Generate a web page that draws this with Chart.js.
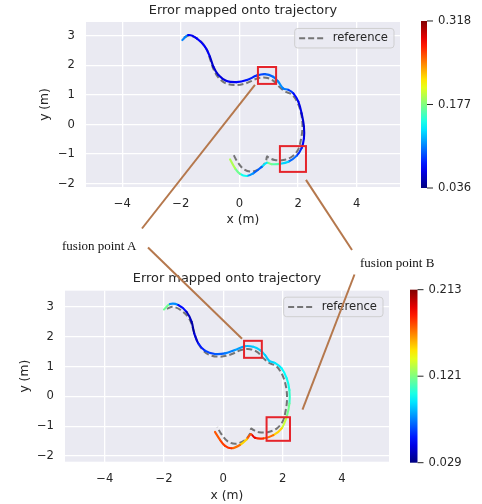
<!DOCTYPE html>
<html>
<head>
<meta charset="utf-8">
<script src="https://cdn.jsdelivr.net/npm/chart.js@4.4.0/dist/chart.umd.min.js"></script>
<style>
  html, body { margin: 0; padding: 0; background: #fff; }
  #page { position: relative; width: 482px; height: 504px; overflow: hidden; }
  #page canvas { position: absolute; left: 0; }
  #chartTop { top: 0; }
  #chartBottom { top: 250px; }
  #overlay { top: 0; pointer-events: none; }
  .callout {
    position: absolute;
    font: 13px 'Liberation Serif', 'Times New Roman', serif;
    line-height: 15px;
    color: #111;
    white-space: nowrap;
  }
</style>
</head>
<body>
<div id="page">
  <canvas id="chartTop" width="482" height="240"></canvas>
  <canvas id="chartBottom" width="482" height="254"></canvas>
  <canvas id="overlay" width="482" height="504"></canvas>
  <div class="callout" id="labelA" style="left:62px; top:238px">fusion point A</div>
  <div class="callout" id="labelB" style="left:360px; top:255px">fusion point B</div>
</div>
<script>
// --- data -------------------------------------------------------------
const xTicks = [-4, -2, 0, 2, 4]
const yTicks = [-2, -1, 0, 1, 2, 3]

// reference trajectory (same in both plots)
const refX = [-1.9, -1.7, -1.42, -1.15, -1.0, -0.88, -0.7, -0.45, -0.1, 0.25, 0.6, 0.9, 1.15, 1.35, 1.55, 1.8, 2.0, 2.12, 2.15, 2.1, 2.0, 1.8, 1.5, 1.2, 1.0, 0.94, 0.9, 0.72, 0.42, 0.15, -0.07, -0.2]
const refY = [2.93, 3.0, 2.88, 2.6, 2.2, 1.85, 1.56, 1.38, 1.33, 1.4, 1.55, 1.58, 1.48, 1.28, 1.12, 1.0, 0.7, 0.3, -0.1, -0.5, -0.85, -1.08, -1.2, -1.2, -1.12, -1.08, -1.25, -1.47, -1.59, -1.51, -1.26, -1.03]

// upper plot: estimated trajectory + error (m)
const topX = [-1.95, -1.75, -1.46, -1.18, -1.01, -0.89, -0.72, -0.44, -0.1, 0.25, 0.59, 0.87, 1.15, 1.32, 1.49, 1.67, 1.84, 2.01, 2.12, 2.2, 2.2, 2.12, 1.95, 1.67, 1.38, 1.1, 0.93, 0.76, 0.47, 0.25, 0.02, -0.15, -0.32]
const topY = [2.85, 3.02, 2.91, 2.63, 2.29, 1.95, 1.67, 1.47, 1.43, 1.5, 1.65, 1.7, 1.61, 1.45, 1.22, 1.17, 1.05, 0.77, 0.38, -0.07, -0.47, -0.8, -1.06, -1.26, -1.33, -1.34, -1.29, -1.43, -1.65, -1.74, -1.67, -1.48, -1.18]
const topErr = [0.14, 0.075, 0.062, 0.08, 0.058, 0.056, 0.06, 0.065, 0.07, 0.075, 0.085, 0.095, 0.1, 0.105, 0.115, 0.095, 0.08, 0.068, 0.06, 0.058, 0.062, 0.075, 0.09, 0.11, 0.15, 0.18, 0.17, 0.1, 0.095, 0.13, 0.16, 0.185, 0.195]
const topScale = [0.036, 0.177, 0.318]

// lower plot
const botX = [-2.0, -1.8, -1.52, -1.24, -1.07, -0.98, -0.84, -0.62, -0.28, 0.06, 0.39, 0.73, 1.01, 1.24, 1.41, 1.55, 1.74, 1.97, 2.14, 2.23, 2.23, 2.14, 1.97, 1.69, 1.35, 1.07, 0.93, 0.79, 0.56, 0.28, 0.06, -0.11, -0.28]
const botY = [2.91, 3.09, 3.06, 2.83, 2.5, 2.11, 1.77, 1.53, 1.42, 1.44, 1.55, 1.68, 1.66, 1.55, 1.38, 1.19, 1.12, 0.94, 0.6, 0.21, -0.24, -0.68, -1.07, -1.3, -1.41, -1.39, -1.27, -1.44, -1.63, -1.74, -1.66, -1.46, -1.19]
const botErr = [0.143, 0.093, 0.062, 0.046, 0.035, 0.037, 0.052, 0.062, 0.066, 0.072, 0.078, 0.084, 0.088, 0.092, 0.09, 0.088, 0.093, 0.097, 0.099, 0.103, 0.112, 0.125, 0.143, 0.161, 0.18, 0.185, 0.204, 0.143, 0.161, 0.18, 0.182, 0.176, 0.173]
const botScale = [0.029, 0.121, 0.213]

// highlighted regions [xMin, xMax, yMin, yMax] in metres
const topBoxA = [0.63, 1.25, 1.37, 1.94]
const topBoxB = [1.38, 2.27, -1.6, -0.73]
const botBoxA = [0.7, 1.3, 1.29, 1.86]
const botBoxB = [1.46, 2.25, -1.49, -0.7]

// --- helpers ----------------------------------------------------------
Chart.defaults.font.family = "'DejaVu Sans', sans-serif"
Chart.defaults.color = '#262626'

const jet = (t) => {
  const c = (v) => Math.round(255 * Math.min(1, Math.max(0, v)))
  return `rgb(${c(1.5 - Math.abs(4 * t - 3))}, ${c(1.5 - Math.abs(4 * t - 2))}, ${c(1.5 - Math.abs(4 * t - 1))})`
}
const fmt = (v) => String(v).replace('-', '\u2212')

const backgroundPlugin = {
  id: 'darkgrid',
  beforeDraw: (chart) => {
    const { ctx, chartArea: a } = chart
    ctx.save()
    ctx.fillStyle = '#eaeaf2'
    ctx.fillRect(a.left, a.top, a.width, a.height)
    ctx.restore()
  }
}

const createBoxesPlugin = (boxes) => ({
  id: 'boxes',
  afterDatasetsDraw: (chart) => {
    const { ctx, scales: { x, y } } = chart
    ctx.save()
    ctx.strokeStyle = '#e5242b'
    ctx.lineWidth = 2
    boxes.forEach(([x0, x1, y0, y1]) => {
      const l = x.getPixelForValue(x0), r = x.getPixelForValue(x1)
      const t = y.getPixelForValue(y1), b = y.getPixelForValue(y0)
      ctx.strokeRect(l, t, r - l, b - t)
    })
    ctx.restore()
  }
})

const legendPlugin = {
  id: 'refLegend',
  afterDatasetsDraw: (chart) => {
    const { ctx, chartArea: a } = chart
    const ds = chart.data.datasets[1]
    ctx.save()
    ctx.font = "11.6px 'DejaVu Sans'"
    const w = 38 + ctx.measureText(ds.label).width + 6
    const h = 19.5
    const left = a.right - 6 - w, top = a.top + 6.5
    ctx.beginPath()
    ctx.roundRect(left, top, w, h, 3)
    ctx.fillStyle = 'rgba(234,234,242,0.85)'
    ctx.fill()
    ctx.strokeStyle = 'rgba(204,204,204,0.9)'
    ctx.lineWidth = 1
    ctx.stroke()
    ctx.beginPath()
    ctx.setLineDash(ds.borderDash)
    ctx.strokeStyle = ds.borderColor
    ctx.lineWidth = ds.borderWidth
    ctx.moveTo(left + 4.5, top + h / 2)
    ctx.lineTo(left + 29, top + h / 2)
    ctx.stroke()
    ctx.setLineDash([])
    ctx.fillStyle = '#262626'
    ctx.textBaseline = 'middle'
    ctx.fillText(ds.label, left + 38, top + h / 2)
    ctx.restore()
  }
}

const createColorbarPlugin = (scaleVals, barW) => ({
  id: 'colorbar',
  afterDraw: (chart) => {
    const { ctx, chartArea: a } = chart
    const left = a.right + 21, top = a.top - 1, bottom = a.bottom + 1
    const min = scaleVals[0], max = scaleVals[scaleVals.length - 1]
    ctx.save()
    const grad = ctx.createLinearGradient(0, bottom, 0, top)
    for (let i = 0; i <= 20; i++) grad.addColorStop(i / 20, jet(i / 20))
    ctx.fillStyle = grad
    ctx.fillRect(left, top, barW, bottom - top)
    ctx.strokeStyle = '#262626'
    ctx.lineWidth = 1
    ctx.fillStyle = '#262626'
    ctx.font = "11.6px 'DejaVu Sans'"
    ctx.textBaseline = 'middle'
    scaleVals.forEach((v) => {
      const yPos = bottom - (v - min) / (max - min) * (bottom - top)
      ctx.beginPath()
      ctx.moveTo(left + barW, yPos)
      ctx.lineTo(left + barW + 6, yPos)
      ctx.stroke()
      ctx.fillText(v.toFixed(3), left + barW + 11, yPos)
    })
    ctx.restore()
  }
})

const createTrajectoryChart = (canvas, xs, ys, errs, scaleVals, boxes, lay) => {
  const min = scaleVals[0], max = scaleVals[scaleVals.length - 1]
  const norm = (v) => (v - min) / (max - min)
  return new Chart(canvas.getContext('2d'), {
    type: 'scatter',
    data: {
      datasets: [{
        label: 'estimate',
        data: xs.map((x, i) => ({ x, y: ys[i] })),
        showLine: true,
        pointRadius: 0,
        borderWidth: 2.1,
        borderCapStyle: 'round',
        tension: 0.35,
        segment: {
          borderColor: (c) => jet(norm((errs[c.p0DataIndex] + errs[c.p1DataIndex]) / 2))
        }
      }, {
        label: 'reference',
        data: refX.map((x, i) => ({ x, y: refY[i] })),
        showLine: true,
        pointRadius: 0,
        borderWidth: 2,
        borderDash: [6, 3],
        borderColor: 'rgba(95,95,95,0.85)',
        tension: 0.35
      }]
    },
    options: {
      responsive: false,
      animation: false,
      events: [],
      layout: { padding: { left: 0, right: lay.padRight, top: 0, bottom: 0 } },
      plugins: {
        legend: { display: false },
        tooltip: { enabled: false },
        title: {
          display: true,
          text: 'Error mapped onto trajectory',
          fullSize: false,
          font: { size: 12.9, weight: 'normal' },
          color: '#262626',
          padding: { top: lay.titleTop, bottom: lay.titleBottom }
        }
      },
      scales: {
        x: {
          type: 'linear',
          min: lay.xMin,
          max: lay.xMax,
          afterBuildTicks: (s) => { s.ticks = xTicks.map(v => ({ value: v })) },
          afterFit: (s) => { s.height = lay.xAxisH },
          grid: { color: '#ffffff', lineWidth: 1.3, drawTicks: false },
          border: { display: false },
          ticks: { padding: 10, font: { size: 11.6 }, color: '#262626', callback: fmt },
          title: { display: true, text: 'x (m)', font: { size: 12.3 }, color: '#262626', padding: { bottom: lay.xTitlePad } }
        },
        y: {
          type: 'linear',
          min: lay.yMin,
          max: lay.yMax,
          afterBuildTicks: (s) => { s.ticks = yTicks.map(v => ({ value: v })) },
          afterFit: (s) => { s.width = lay.yAxisW },
          grid: { color: '#ffffff', lineWidth: 1.3, drawTicks: false },
          border: { display: false },
          ticks: { padding: 11, font: { size: 11.6 }, color: '#262626', callback: fmt },
          title: { display: true, text: 'y (m)', font: { size: 12.3 }, color: '#262626', padding: { top: lay.yTitlePad } }
        }
      }
    },
    plugins: [backgroundPlugin, createBoxesPlugin(boxes), legendPlugin, createColorbarPlugin(scaleVals, lay.barW)]
  })
}

const chartTop = createTrajectoryChart(document.getElementById('chartTop'), topX, topY, topErr, topScale, [topBoxA, topBoxB], {
  padRight: 82, titleTop: 3, titleBottom: 3.5, xAxisH: 53, xTitlePad: 12.6, yAxisW: 86, yTitlePad: 37.6,
  xMin: -5.24, xMax: 5.48, yMin: -2.11, yMax: 3.46, barW: 6
})
const chartBottom = createTrajectoryChart(document.getElementById('chartBottom'), botX, botY, botErr, botScale, [botBoxA, botBoxB], {
  padRight: 93, titleTop: 20.6, titleBottom: 4.6, xAxisH: 42.3, xTitlePad: 0.9, yAxisW: 65, yTitlePad: 17.6,
  xMin: -5.34, xMax: 5.59, yMin: -2.19, yMax: 3.54, barW: 7.5
})

// --- callout lines across both plots ----------------------------------
const corner = (chart, box, offsetTop, cx, cy) => {
  const { x, y } = chart.scales
  const px = x.getPixelForValue(cx === 'l' ? box[0] : box[1])
  const py = y.getPixelForValue(cy === 't' ? box[3] : box[2])
  return [px, py + offsetTop]
}

const overlay = document.getElementById('overlay').getContext('2d')
const aTop = corner(chartTop, topBoxA, 0, 'l', 'b')
const bTop = corner(chartTop, topBoxB, 0, 'r', 'b')
const aBot = corner(chartBottom, botBoxA, 250, 'l', 't')
const bBot = corner(chartBottom, botBoxB, 250, 'r', 't')
const callouts = [
  [[aTop[0] - 3, aTop[1] + 1], [142, 228.5]],
  [[bTop[0], bTop[1] + 8], [352, 250]],
  [[148, 247.5], [aBot[0] - 2, aBot[1] - 2]],
  [[354.5, 274.5], [bBot[0] + 12.5, bBot[1] - 7.5]]
]
overlay.strokeStyle = '#b5784d'
overlay.lineWidth = 2
callouts.forEach(([p, q]) => {
  overlay.beginPath()
  overlay.moveTo(p[0], p[1])
  overlay.lineTo(q[0], q[1])
  overlay.stroke()
})
</script>
</body>
</html>
